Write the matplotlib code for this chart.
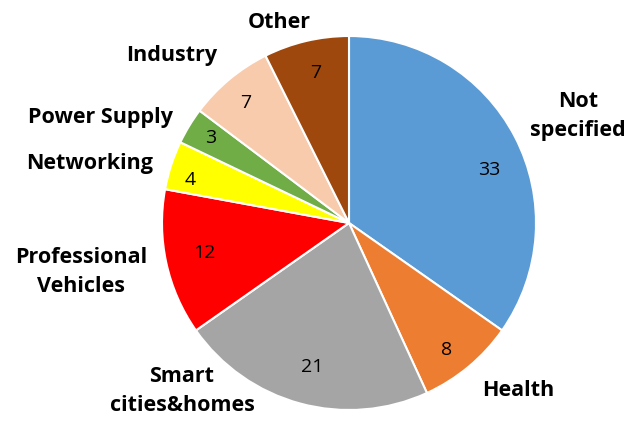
import matplotlib.pyplot as plt

labels = ["Not\nspecified", "Health", "Smart\ncities&homes", "Professional\nVehicles",
          "Networking", "Power Supply", "Industry", "Other"]
values = [33, 8, 21, 12, 4, 3, 7, 7]
colors = ["#5B9BD5", "#ED7D31", "#A5A5A5", "#FF0000",
          "#FFFF00", "#70AD47", "#F8CBAD", "#9E480E"]

# label / value positions in pixel coords (from top-left), as in the original
label_pos = [(578, 116), (518, 391), (182, 391), (81, 272),
             (90, 163), (100, 117), (172, 56), (279, 22)]
value_pos = [(489, 170), (447, 350), (312, 367), (204, 253),
             (190, 180), (211, 138), (246, 103), (316, 73)]

W, H = 631, 422
fig = plt.figure(figsize=(W / 100, H / 100), dpi=100)
ax = fig.add_axes([0, 0, 1, 1])

ax.pie(values, colors=colors, startangle=90, counterclock=False,
       center=(349, H - 223), radius=187,
       wedgeprops=dict(edgecolor="white", linewidth=1.5))
ax.set_xlim(0, W)
ax.set_ylim(0, H)
ax.set_aspect("equal")
ax.axis("off")

for lab, (x, y) in zip(labels, label_pos):
    ax.text(x, H - y, lab, ha="center", va="center", multialignment="center",
            fontsize=15.5, fontweight="bold", family="Open Sans", linespacing=1.55)

for v, (x, y) in zip(values, value_pos):
    ax.text(x, H - y, str(v), ha="center", va="center", fontsize=14, family="Open Sans")

fig.savefig("out.png", dpi=100)
